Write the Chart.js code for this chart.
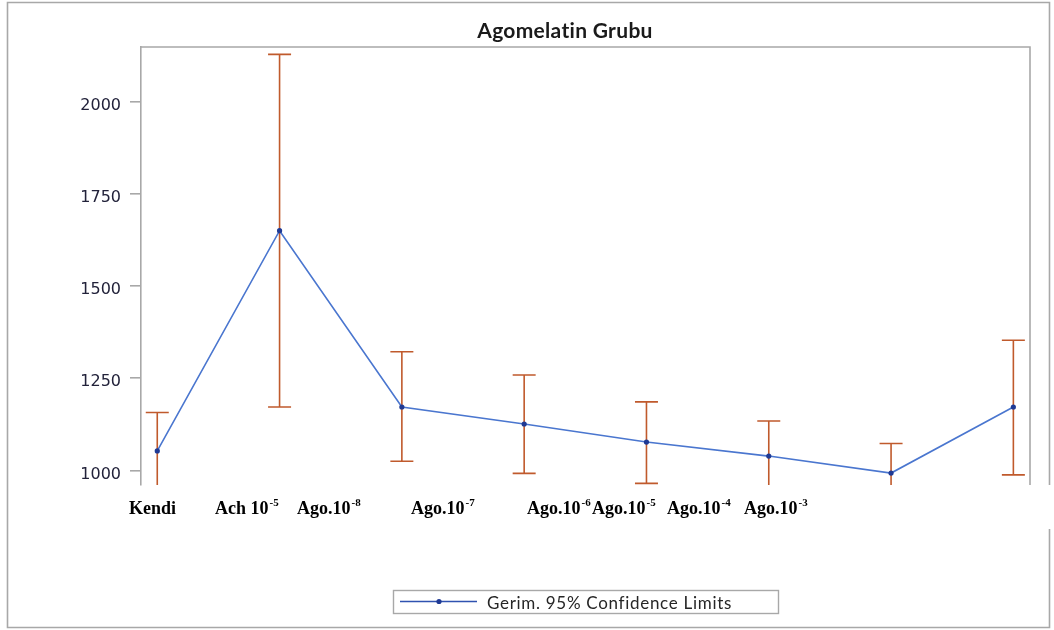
<!DOCTYPE html>
<html>
<head>
<meta charset="utf-8">
<script src="https://cdn.jsdelivr.net/npm/chart.js@4"></script>
<style>
  html, body { margin: 0; padding: 0; background: #fff; }
  #wrap { width: 1054px; height: 630px; position: relative; }
</style>
</head>
<body>
<div id="wrap"><canvas id="chart" width="1054" height="630"></canvas></div>
<script>
// groups (x labels), drawn in the white strip under the plot
const groups = ['Kendi', 'Ach 10', 'Ago.10', 'Ago.10', 'Ago.10', 'Ago.10', 'Ago.10', 'Ago.10'];
const groupSup = ['', '-5', '-8', '-7', '-6', '-5', '-4', '-3'];
// label left edges as they sit in the original picture (not aligned to points)
const labelLeft = [129, 215, 297, 411, 527, 592, 667, 744];

// means and 95% confidence limits
const means = [1053, 1650, 1172, 1126, 1077, 1039, 993, 1172];
const upper = [1157, 2128, 1322, 1259, 1186, 1134, 1073, 1353];
const lower = [949, 1172, 1025, 992, 965, 944, 913, 988];

const yTicks = [1000, 1250, 1500, 1750, 2000];

const GRAY = '#a8a8a8';
const ERR = '#c05a2c';

const errorBars = {
  id: 'errorBars',
  beforeDatasetsDraw(chart) {
    const ctx = chart.ctx, a = chart.chartArea;
    const xs = chart.scales.x, ys = chart.scales.y;
    ctx.save();
    ctx.beginPath();
    ctx.rect(a.left, a.top, a.right - a.left, a.bottom - a.top);
    ctx.clip();
    ctx.strokeStyle = ERR;
    ctx.lineWidth = 1.6;
    means.forEach((m, i) => {
      const x = xs.getPixelForValue(i);
      const yu = ys.getPixelForValue(upper[i]);
      const yl = ys.getPixelForValue(lower[i]);
      ctx.beginPath();
      ctx.moveTo(x, yu); ctx.lineTo(x, yl);
      ctx.moveTo(x - 11.5, yu); ctx.lineTo(x + 11.5, yu);
      ctx.moveTo(x - 11.5, yl); ctx.lineTo(x + 11.5, yl);
      ctx.stroke();
    });
    ctx.restore();
  }
};

const frame = {
  id: 'frame',
  afterDraw(chart) {
    const ctx = chart.ctx, a = chart.chartArea;
    ctx.save();
    // outer frame, right side broken by the white label strip
    ctx.strokeStyle = GRAY;
    ctx.lineWidth = 1.6;
    ctx.beginPath();
    ctx.moveTo(1049.5, 485); ctx.lineTo(1049.5, 2.5); ctx.lineTo(7.5, 2.5);
    ctx.lineTo(7.5, 627.5); ctx.lineTo(1049.5, 627.5); ctx.lineTo(1049.5, 529);
    ctx.stroke();

    // title
    ctx.fillStyle = '#1a1a1a';
    ctx.font = 'bold 21px Lato';
    ctx.letterSpacing = '0.3px';
    ctx.textAlign = 'center';
    ctx.textBaseline = 'alphabetic';
    ctx.fillText('Agomelatin Grubu', 565, 38);
    ctx.letterSpacing = '0px';

    // plot box: top and right sides (left is the y axis)
    ctx.beginPath();
    ctx.moveTo(a.left, a.top); ctx.lineTo(a.right, a.top); ctx.lineTo(a.right, a.bottom);
    ctx.stroke();

    // group labels with superscripts
    ctx.textAlign = 'left';
    ctx.fillStyle = '#000';
    groups.forEach((g, i) => {
      ctx.font = 'bold 18px "Liberation Serif"';
      const x = labelLeft[i];
      ctx.fillText(g, x, 514);
      if (groupSup[i]) {
        const w = ctx.measureText(g).width;
        ctx.font = 'bold 11px "Liberation Serif"';
        ctx.fillText(groupSup[i], x + w + 1, 506);
      }
    });

    // legend
    ctx.strokeStyle = GRAY;
    ctx.lineWidth = 1.4;
    ctx.strokeRect(393.5, 590.5, 385, 23);
    ctx.strokeStyle = '#2f52b0';
    ctx.lineWidth = 1.5;
    ctx.beginPath(); ctx.moveTo(400, 601.5); ctx.lineTo(477, 601.5); ctx.stroke();
    ctx.fillStyle = '#1f3a94';
    ctx.beginPath(); ctx.arc(439, 601.5, 2.6, 0, Math.PI * 2); ctx.fill();
    ctx.fillStyle = '#262626';
    ctx.font = '17px Lato';
    ctx.letterSpacing = '0.7px';
    ctx.fillText('Gerim. 95% Confidence Limits', 487, 609);
    ctx.letterSpacing = '0px';
    ctx.restore();
  }
};

new Chart(document.getElementById('chart'), {
  type: 'line',
  data: {
    datasets: [{
      data: means.map((v, i) => ({ x: i, y: v })),
      borderColor: '#4a76cf',
      borderWidth: 1.6,
      pointRadius: 2.6,
      pointBackgroundColor: '#1f3a94',
      pointBorderWidth: 0,
      tension: 0
    }]
  },
  options: {
    responsive: false,
    animation: false,
    layout: { padding: { left: 0, top: 47, right: 24, bottom: 145 } },
    plugins: { legend: { display: false }, title: { display: false }, tooltip: { enabled: false } },
    scales: {
      x: { type: 'linear', display: false, min: -0.133, max: 7.136 },
      y: {
        min: 960.6,
        max: 2148,
        afterFit(s) { s.width = 141; },
        afterBuildTicks(s) { s.ticks = yTicks.map(v => ({ value: v })); },
        border: { color: GRAY, width: 1.6 },
        grid: { drawOnChartArea: false, color: GRAY, lineWidth: 1.6, tickLength: 11 },
        ticks: {
          color: '#22223a',
          font: { family: 'DejaVu Sans', size: 16 },
          padding: 9,
          labelOffset: 4,
          callback: v => String(v)
        }
      }
    }
  },
  plugins: [errorBars, frame]
});
</script>
</body>
</html>
